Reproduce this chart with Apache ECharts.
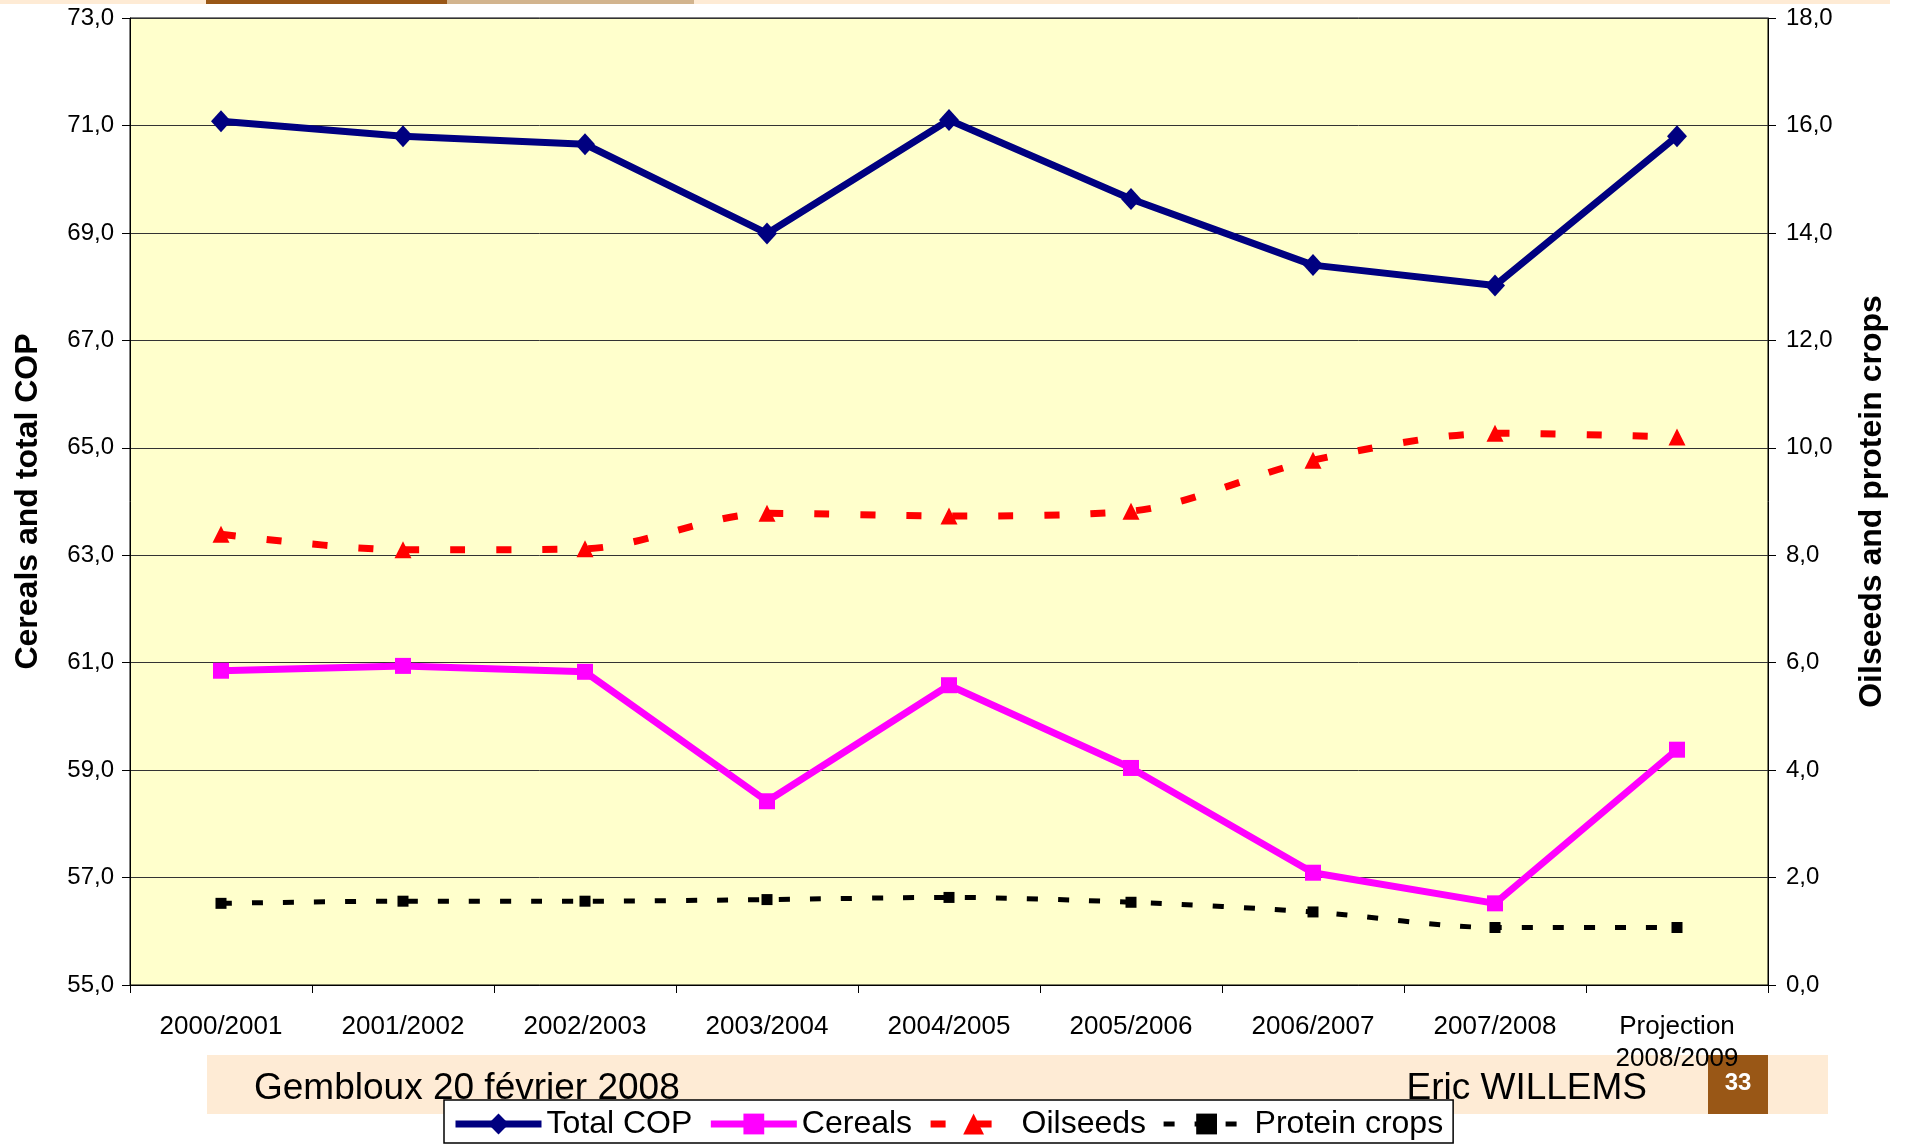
<!DOCTYPE html>
<html>
<head>
<meta charset="utf-8">
<title>COP</title>
<script src="https://cdn.jsdelivr.net/npm/echarts@6/dist/echarts.min.js"></script>
<style>
html,body{margin:0;padding:0;background:#fff;}
#main{width:1906px;height:1145px;}
</style>
</head>
<body>
<div id="main"></div>
<script>
// campaigns
var years = ['2000/2001','2001/2002','2002/2003','2003/2004','2004/2005','2005/2006','2006/2007','2007/2008','Projection\n2008/2009'];
// left axis (Mt)
var totalCop = [71.08, 70.80, 70.65, 68.99, 71.10, 69.63, 68.40, 68.02, 70.80];
var cereals  = [60.85, 60.94, 60.83, 58.42, 60.58, 59.04, 57.09, 56.52, 59.38];
// right axis
var oilseeds = [8.39, 8.10, 8.12, 8.78, 8.73, 8.82, 9.77, 10.27, 10.20];
var protein  = [1.52, 1.56, 1.56, 1.59, 1.63, 1.54, 1.36, 1.07, 1.07];

var font = 'Arial, "Liberation Sans", sans-serif';
function fmt(v){ return v.toFixed(1).replace('.', ','); }

var myChart = echarts.init(document.getElementById('main'));
myChart.setOption({
    animation:false,
    textStyle:{fontFamily:font},
    grid:{left:130,right:138,top:18,bottom:160,show:true,backgroundColor:'#FFFFCC',borderColor:'#000',borderWidth:1},
    legend:{
        left:444, top:1100, padding:[8,10,3,8],
        itemWidth:86, itemHeight:26, itemGap:15,
        backgroundColor:'#fff', borderColor:'#000', borderWidth:1.5,
        textStyle:{fontSize:32,color:'#000',fontFamily:font},
        data:[
            {name:'Total COP',lineStyle:{width:7}},
            {name:'Cereals',lineStyle:{width:7}},
            {name:'Oilseeds',lineStyle:{width:7}},
            {name:'Protein crops',lineStyle:{width:5}}
        ]
    },
    graphic:[
        {type:'rect',z:-10,shape:{x:0,y:0,width:1890,height:4},style:{fill:'#FEEBD5'}},
        {type:'rect',z:-9,shape:{x:206,y:0,width:241,height:4},style:{fill:'#995716'}},
        {type:'rect',z:-9,shape:{x:447,y:0,width:247,height:4},style:{fill:'#D2B48E'}},
        {type:'rect',z:-10,shape:{x:207,y:1055,width:1621,height:59},style:{fill:'#FEEBD5'}},
        {type:'rect',z:-9,shape:{x:1708,y:1055,width:60,height:59},style:{fill:'#995716'}},
        {type:'text',z:-8,x:1738,y:1083,style:{text:'33',fill:'#fff',font:'bold 24px '+font,textAlign:'center',textVerticalAlign:'middle'}},
        {type:'text',z:-8,x:254,y:1107,style:{text:'Gembloux 20 février 2008',fill:'#000',font:'37px '+font,textAlign:'left',textVerticalAlign:'bottom'}},
        {type:'text',z:-8,x:1647,y:1107,style:{text:'Eric WILLEMS',fill:'#000',font:'37px '+font,textAlign:'right',textVerticalAlign:'bottom'}}
    ],
    xAxis:{
        type:'category', data:years, boundaryGap:true,
        axisLine:{lineStyle:{color:'#000',width:1}},
        axisTick:{show:true,length:8,lineStyle:{color:'#000'}},
        axisLabel:{color:'#000',fontSize:26,margin:26,lineHeight:32,interval:0}
    },
    yAxis:[{
        type:'value', min:55, max:73, interval:2,
        name:'Cereals and total COP', nameLocation:'middle', nameGap:86, nameRotate:90,
        nameTextStyle:{fontSize:32,fontWeight:'bold',color:'#000'},
        axisLine:{show:true,lineStyle:{color:'#000'}},
        axisTick:{show:true,length:8,lineStyle:{color:'#000'}},
        axisLabel:{color:'#000',fontSize:24,margin:16,formatter:fmt},
        splitLine:{show:true,lineStyle:{color:'#333',width:1}}
    },{
        type:'value', min:0, max:18, interval:2,
        name:'Oilseeds and protein crops', nameLocation:'middle', nameGap:88, nameRotate:90,
        nameTextStyle:{fontSize:32,fontWeight:'bold',color:'#000'},
        axisLine:{show:true,lineStyle:{color:'#000'}},
        axisTick:{show:true,length:8,lineStyle:{color:'#000'}},
        axisLabel:{color:'#000',fontSize:24,margin:18,formatter:fmt},
        splitLine:{show:false}
    }],
    series:[{
        name:'Total COP', type:'line', data:totalCop,
        symbol:'diamond', symbolSize:[20,22],
        lineStyle:{color:'#000080',width:7}, itemStyle:{color:'#000080'}
    },{
        name:'Cereals', type:'line', data:cereals,
        symbol:'rect', symbolSize:16,
        lineStyle:{color:'#FF00FF',width:7}, itemStyle:{color:'#FF00FF'}
    },{
        name:'Oilseeds', type:'line', yAxisIndex:1, data:oilseeds, smooth:0.3,
        symbol:'triangle', symbolSize:17,
        lineStyle:{color:'#FF0000',width:7,type:[15,31]}, itemStyle:{color:'#FF0000'}
    },{
        name:'Protein crops', type:'line', yAxisIndex:1, data:protein, smooth:0.3,
        symbol:'rect', symbolSize:11,
        lineStyle:{color:'#000',width:5,type:[11,20]}, itemStyle:{color:'#000'}
    }]
});
</script>
</body>
</html>
